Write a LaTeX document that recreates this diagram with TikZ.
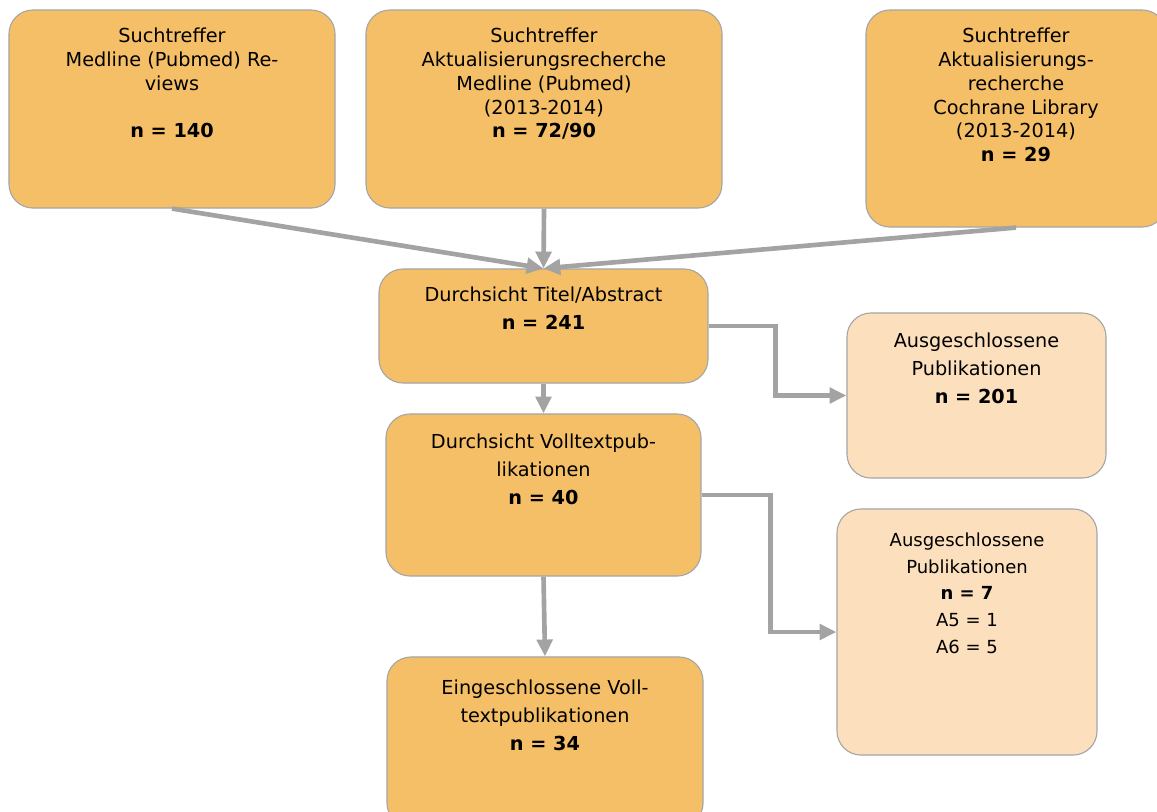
\documentclass[tikz,border=0pt]{standalone}
\usepackage{fontspec}
\setmainfont{DejaVu Sans}
\usetikzlibrary{arrows.meta,positioning}
\definecolor{boxorange}{HTML}{F5BF67}
\definecolor{boxpeach}{HTML}{FCDFBD}
\definecolor{edgegray}{HTML}{A6A6A6}
\definecolor{flowgray}{HTML}{A3A3A3}

\begin{document}
\begin{tikzpicture}[x=0.025cm, y=-0.025cm, >={Triangle[length=12pt,width=11pt]},
  found/.style={draw=edgegray, line width=0.8pt, fill=boxorange, rounded corners=0.6cm},
  dropped/.style={found, fill=boxpeach},
  txt/.style={align=center, inner sep=0pt, font=\fontsize{13.7}{17}\selectfont},
  wide/.style={txt, font=\fontsize{13.7}{20}\selectfont},
  flow/.style={->, draw=flowgray, line width=3.3pt}]
  \useasboundingbox (0,0) rectangle (1157,811);

  % search hits
  \node[found, minimum width=8.15cm, minimum height=4.95cm] (reviews) at (172,109) {};
  \node[txt, below=0.45cm of reviews.north] (reviewstxt)
    {Suchtreffer\\Medline (Pubmed) Re-\\views\\[17pt]\textbf{n = 140}};
  \node[found, minimum width=8.9cm, minimum height=4.95cm] (pubmed) at (544,109) {};
  \node[txt, below=0.45cm of pubmed.north] (pubmedtxt)
    {Suchtreffer\\Aktualisierungsrecherche\\Medline (Pubmed)\\(2013-2014)\\\textbf{n = 72/90}};
  \node[found, minimum width=7.5cm, minimum height=5.425cm] (cochrane) at (1016,118.5) {};
  \node[txt, below=0.45cm of cochrane.north] (cochranetxt)
    {Suchtreffer\\Aktualisierungs-\\recherche\\Cochrane Library\\(2013-2014)\\\textbf{n = 29}};

  % screening
  \node[found, minimum width=8.225cm, minimum height=2.85cm] (titleabs) at (543.5,326) {};
  \node[wide, below=0.45cm of titleabs.north] (titleabstxt)
    {Durchsicht Titel/Abstract\\\textbf{n = 241}};
  \node[dropped, minimum width=6.475cm, minimum height=4.125cm] (excltitle) at (976.5,395.5) {};
  \node[wide, below=0.5cm of excltitle.north] (excltitletxt)
    {Ausgeschlossene\\Publikationen\\\textbf{n = 201}};
  \node[found, minimum width=7.875cm, minimum height=4.05cm] (fulltext) at (543.5,495) {};
  \node[wide, below=0.5cm of fulltext.north] (fulltexttxt)
    {Durchsicht Volltextpub-\\likationen\\\textbf{n = 40}};
  \node[dropped, minimum width=6.5cm, minimum height=6.15cm] (exclfull) at (967,632) {};
  \node[wide, font=\fontsize{12.8}{19}\selectfont, below=0.6cm of exclfull.north] (exclfulltxt)
    {Ausgeschlossene\\Publikationen\\\textbf{n = 7}\\A5 = 1\\A6 = 5};
  \node[found, minimum width=7.9cm, minimum height=4.25cm] (included) at (545,742) {};
  \node[wide, below=0.575cm of included.north] (includedtxt)
    {Eingeschlossene Voll-\\textpublikationen\\\textbf{n = 34}};

  \draw[flow] (reviews.south) -- (titleabs.north);
  \draw[flow] (pubmed.south) -- (titleabs.north);
  \draw[flow] (cochrane.south) -- (titleabs.north);
  \draw[flow] (titleabs.south) -- (fulltext.north);
  \draw[flow] (fulltext.south) -- (included.north);
  \draw[flow] (titleabs.east) -- ++(67,0) |- (excltitle.west);
  \draw[flow] (fulltext.east) -- ++(69,0) |- (exclfull.west);
\end{tikzpicture}
\end{document}
